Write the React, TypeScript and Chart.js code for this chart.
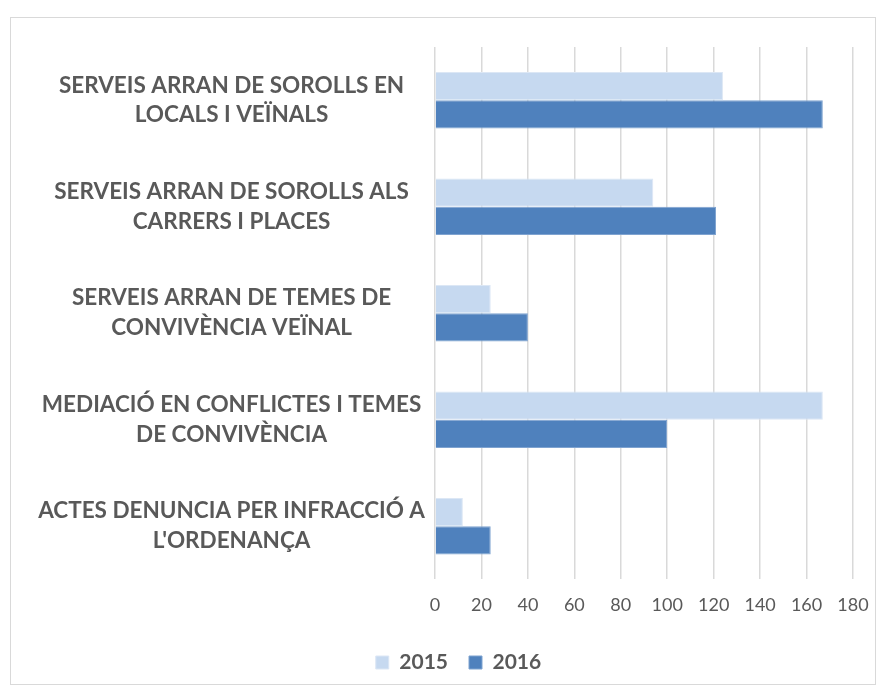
import React, { useEffect, useRef } from "react";
import { Chart, registerables } from "chart.js";

Chart.register(...registerables);

const categories: string[][] = [
  ["SERVEIS ARRAN DE SOROLLS EN", "LOCALS I VEÏNALS"],
  ["SERVEIS ARRAN DE SOROLLS ALS", "CARRERS I PLACES"],
  ["SERVEIS ARRAN DE TEMES DE", "CONVIVÈNCIA VEÏNAL"],
  ["MEDIACIÓ EN CONFLICTES I TEMES", "DE CONVIVÈNCIA"],
  ["ACTES DENUNCIA PER INFRACCIÓ A", "L'ORDENANÇA"],
];
const values2015: number[] = [124, 94, 24, 167, 12];
const values2016: number[] = [167, 121, 40, 100, 24];
const seriesNames: string[] = ["2015", "2016"];
const xMin = 0;
const xMax = 180;
const xStep = 20;

const shiftLegend = {
  id: "shiftLegend",
  afterLayout(chart: any) {
    const lg = chart.legend;
    if (lg) {
      lg.left += 27;
      lg.right += 27;
    }
  },
};

export default function App() {
  const ref = useRef<HTMLCanvasElement | null>(null);
  useEffect(() => {
    if (!ref.current) return;
    const chart = new Chart(ref.current, {
      type: "bar",
      data: {
        labels: categories,
        datasets: [
          {
            label: seriesNames[0],
            data: values2015,
            backgroundColor: "#c6d9f0",
            borderColor: "#dce7f5",
            borderWidth: 1,
            categoryPercentage: 0.53,
            barPercentage: 1,
          },
          {
            label: seriesNames[1],
            data: values2016,
            backgroundColor: "#4f81bd",
            borderColor: "#7fa3d0",
            borderWidth: 1,
            categoryPercentage: 0.53,
            barPercentage: 1,
          },
        ],
      },
      plugins: [shiftLegend],
      options: {
        indexAxis: "y",
        responsive: false,
        animation: false,
        devicePixelRatio: 1,
        layout: { padding: { top: 47, left: 10, right: 32, bottom: 8 } },
        plugins: {
          tooltip: { enabled: false },
          legend: {
            position: "bottom",
            labels: {
              boxWidth: 13,
              boxHeight: 13,
              padding: 21,
              color: "#595959",
              font: { family: "Lato", size: 21, weight: "bold" },
            },
          },
        },
        scales: {
          x: {
            min: xMin,
            max: xMax,
            ticks: {
              stepSize: xStep,
              color: "#595959",
              font: { family: "Lato", size: 18 },
              padding: 15,
            },
            grid: { color: "#d9d9d9", lineWidth: 1.5, drawTicks: false },
            border: { display: false },
          },
          y: {
            ticks: {
              crossAlign: "center",
              padding: 10,
              color: "#595959",
              font: { family: "Lato", size: 22.5, weight: "bold", lineHeight: 1.33 },
            },
            grid: { display: false, drawTicks: false },
            border: { display: false },
            afterFit: (scale: any) => {
              scale.width = 425;
            },
          },
        },
      },
    });
    return () => chart.destroy();
  }, []);
  return (
    <div style={{ position: "fixed", left: 0, top: 0, width: 885, height: 691, background: "#fff" }}>
      <canvas ref={ref} width={885} height={691} style={{ position: "absolute", left: 0, top: 0 }} />
      <div
        style={{
          position: "absolute",
          left: 10,
          top: 17,
          width: 866,
          height: 668,
          border: "1.5px solid #d9d9d9",
          boxSizing: "border-box",
          pointerEvents: "none",
        }}
      />
    </div>
  );
}
